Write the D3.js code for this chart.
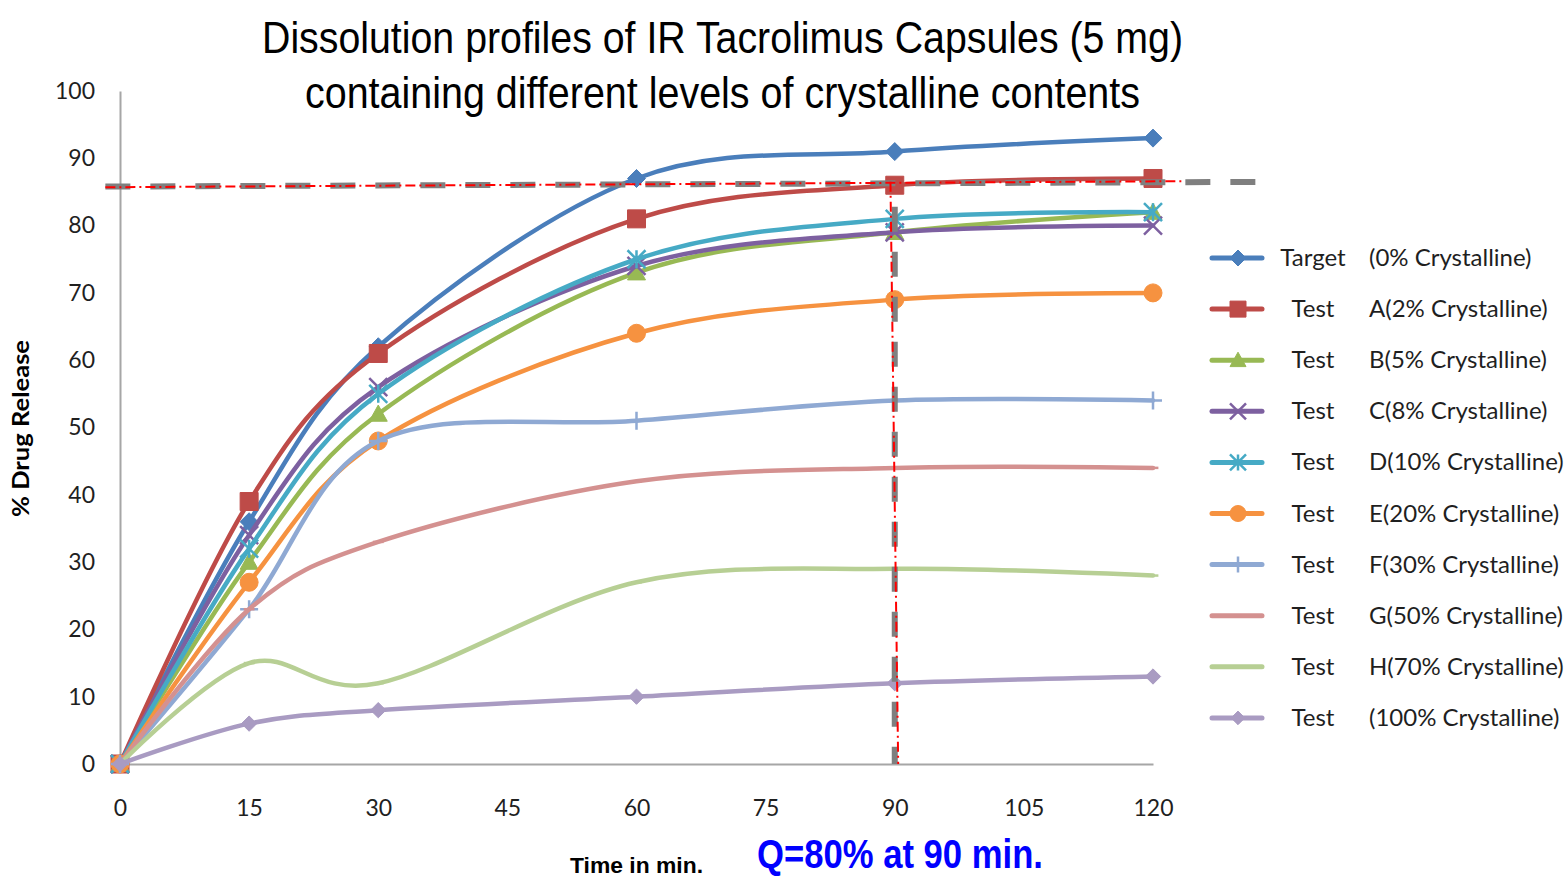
<!DOCTYPE html>
<html>
<head>
<meta charset="utf-8">
<script src="https://cdn.jsdelivr.net/npm/d3@7"></script>
<style>
  body { margin: 0; background: #fff; }
  svg { display: block; }
</style>
</head>
<body>
<div id="chart"></div>
<script>
// Sampling times (min)
const times = [0, 15, 30, 60, 90, 120];

// % drug release per formulation
const target = [0, 36, 62, 87, 91, 93];
const testA = [0, 39, 61, 81, 86, 87];
const testB = [0, 30, 52, 73, 79, 82];
const testC = [0, 34, 56, 74, 79, 80];
const testD = [0, 32, 55, 75, 81, 82];
const testE = [0, 27, 48, 64, 69, 70];
const testF = [0, 23, 48, 51, 54, 54];
const testG = [0, 23, 33, 42, 44, 44];
const testH = [0, 15, 12, 27, 29, 28];
const test100 = [0, 6, 8, 10, 12, 13];

const legendNames = ['Target', 'Test', 'Test', 'Test', 'Test', 'Test', 'Test', 'Test', 'Test', 'Test'];
const legendLabels = ['(0% Crystalline)', 'A(2% Crystalline)', 'B(5% Crystalline)', 'C(8% Crystalline)',
    'D(10% Crystalline)', 'E(20% Crystalline)', 'F(30% Crystalline)', 'G(50% Crystalline)',
    'H(70% Crystalline)', '(100% Crystalline)'];

const xTicks = [0, 15, 30, 45, 60, 75, 90, 105, 120];
const yTicks = [0, 10, 20, 30, 40, 50, 60, 70, 80, 90, 100];

// Q = 80% at 90 min guide lines, in data units [time, %]
const qLevelGray = [[-1.7, 85.8], [132.5, 86.5]];
const qLevelRed = [[-1.7, 85.7], [123.7, 86.6]];
const qTimeGray = [[90, 82.8], [90, 0]];
const qTimeRed = [[89.5, 86.5], [90.4, 0]];

const allSeries = [target, testA, testB, testC, testD, testE, testF, testG, testH, test100];
const colors = ['#4a7ebb', '#be4b48', '#98b954', '#7d60a0', '#46aac5', '#f69240',
    '#8fa9d3', '#d49190', '#b7cf94', '#a99bc2'];
const markers = ['diamond', 'square', 'triangle', 'x', 'star', 'circle', 'plus', 'dash', 'dash', 'diamondS'];

const W = 1566, H = 879;
const svg = d3.select('#chart').append('svg')
    .attr('width', W).attr('height', H);

const x = d3.scaleLinear().domain([0, 120]).range([120, 1153]);
const y = d3.scaleLinear().domain([0, 100]).range([764, 91]);

const tickFont = 'Lato, "Open Sans", sans-serif';

// Axes
const yAxis = svg.append('g')
    .attr('transform', `translate(${x(0)},0)`)
    .call(d3.axisLeft(y).tickValues(yTicks).tickSize(0).tickSizeOuter(0).tickPadding(25));
const xAxis = svg.append('g')
    .attr('transform', `translate(0,${y(0)})`)
    .call(d3.axisBottom(x).tickValues(xTicks).tickSize(0).tickSizeOuter(0).tickPadding(36));
[xAxis, yAxis].forEach(g => {
    g.select('.domain').attr('stroke', '#a6a6a6').attr('stroke-width', 2);
    g.selectAll('text')
        .style('font-family', tickFont)
        .style('font-size', '23px')
        .attr('fill', '#1f1f1f');
});

function markerPath(type, s) {
    const h = s / 2;
    switch (type) {
        case 'diamond': return `M0,${-h}L${h},0L0,${h}L${-h},0Z`;
        case 'diamondS': return `M0,${-h * 0.85}L${h * 0.85},0L0,${h * 0.85}L${-h * 0.85},0Z`;
        case 'square': return `M${-h},${-h}h${s}v${s}h${-s}Z`;
        case 'triangle': return `M0,${-h}L${h},${h * 0.8}L${-h},${h * 0.8}Z`;
        case 'circle': return d3.arc()({ innerRadius: 0, outerRadius: h, startAngle: 0, endAngle: 2 * Math.PI });
        case 'x': return `M${-h},${-h}L${h},${h}M${h},${-h}L${-h},${h}`;
        case 'star': return `M${-h},${-h}L${h},${h}M${h},${-h}L${-h},${h}M0,${-h}V${h}`;
        case 'plus': return `M${-h},0H${h}M0,${-h}V${h}`;
        case 'dash': return `M${-h * 0.6},0H${h * 0.6}`;
    }
}
const filled = t => ['diamond', 'diamondS', 'square', 'triangle', 'circle'].includes(t);

const line = d3.line()
    .x(d => x(d[0]))
    .y(d => y(d[1]))
    .curve(d3.curveCatmullRom.alpha(0));

const plot = svg.append('g');
allSeries.forEach((vals, i) => {
    const pts = times.map((t, j) => [t, vals[j]]);
    plot.append('path')
        .datum(pts)
        .attr('d', line)
        .attr('fill', 'none')
        .attr('stroke', colors[i])
        .attr('stroke-width', 4.5)
        .attr('stroke-linecap', 'round');
    plot.append('g').selectAll('path')
        .data(pts)
        .join('path')
        .attr('transform', d => `translate(${x(d[0])},${y(d[1])})`)
        .attr('d', markerPath(markers[i], 18))
        .attr('fill', filled(markers[i]) ? colors[i] : 'none')
        .attr('stroke', colors[i])
        .attr('stroke-width', filled(markers[i]) ? 1 : 2.5);
});

// Q guide lines
const guide = d3.line().x(d => x(d[0])).y(d => y(d[1]));
svg.append('path').datum(qLevelGray).attr('d', guide)
    .attr('stroke', '#7f7f7f').attr('stroke-width', 6).attr('stroke-dasharray', '25,20').attr('fill', 'none');
svg.append('path').datum(qTimeGray).attr('d', guide)
    .attr('stroke', '#7f7f7f').attr('stroke-width', 6).attr('stroke-dasharray', '25,20').attr('fill', 'none');
svg.append('path').datum(qLevelRed).attr('d', guide)
    .attr('stroke', '#ff0000').attr('stroke-width', 2).attr('stroke-dasharray', '10,4,2,4').attr('fill', 'none');
svg.append('path').datum(qTimeRed).attr('d', guide)
    .attr('stroke', '#ff0000').attr('stroke-width', 2).attr('stroke-dasharray', '10,4,2,4').attr('fill', 'none');

// Title
const titleFont = '"Liberation Sans Narrow", "Arial Narrow", "Liberation Sans", Arial, sans-serif';
svg.append('text')
    .attr('x', 262).attr('y', 53)
    .attr('textLength', 921).attr('lengthAdjust', 'spacingAndGlyphs')
    .style('font-family', titleFont).style('font-size', '45px').attr('fill', '#000')
    .text('Dissolution profiles of IR Tacrolimus Capsules (5 mg)');
svg.append('text')
    .attr('x', 305).attr('y', 108)
    .attr('textLength', 835).attr('lengthAdjust', 'spacingAndGlyphs')
    .style('font-family', titleFont).style('font-size', '45px').attr('fill', '#000')
    .text('containing different levels of crystalline contents');

// Axis titles
svg.append('text')
    .attr('transform', `translate(29,${(340 + 517) / 2}) rotate(-90)`)
    .attr('text-anchor', 'middle')
    .attr('textLength', 177).attr('lengthAdjust', 'spacingAndGlyphs')
    .style('font-family', tickFont).style('font-size', '22px').style('font-weight', 'bold')
    .attr('fill', '#000')
    .text('% Drug Release');
svg.append('text')
    .attr('x', 570).attr('y', 873)
    .attr('textLength', 133).attr('lengthAdjust', 'spacingAndGlyphs')
    .style('font-family', '"Liberation Sans", Arial, sans-serif').style('font-size', '22px').style('font-weight', 'bold')
    .attr('fill', '#000')
    .text('Time in min.');
svg.append('text')
    .attr('x', 757).attr('y', 868)
    .attr('textLength', 286).attr('lengthAdjust', 'spacingAndGlyphs')
    .style('font-family', titleFont).style('font-size', '40px').style('font-weight', 'bold')
    .attr('fill', '#0000ff')
    .text('Q=80% at 90 min.');

// Legend
const legend = svg.append('g');
allSeries.forEach((vals, i) => {
    const ly = 258 + i * 51.1;
    const g = legend.append('g').attr('transform', `translate(0,${ly})`);
    g.append('line')
        .attr('x1', 1212).attr('x2', 1262)
        .attr('stroke', colors[i]).attr('stroke-width', 5).attr('stroke-linecap', 'round');
    g.append('path')
        .attr('transform', 'translate(1238,0)')
        .attr('d', markerPath(markers[i], 16))
        .attr('fill', filled(markers[i]) ? colors[i] : 'none')
        .attr('stroke', colors[i])
        .attr('stroke-width', filled(markers[i]) ? 1 : 2.5);
    g.append('text')
        .attr('x', 1313).attr('y', 8)
        .attr('text-anchor', 'middle')
        .style('font-family', tickFont).style('font-size', '24px')
        .attr('fill', '#1f1f1f')
        .text(legendNames[i]);
    g.append('text')
        .attr('x', 1369).attr('y', 8)
        .style('font-family', tickFont).style('font-size', '24px')
        .attr('fill', '#1f1f1f')
        .text(legendLabels[i]);
});
</script>
</body>
</html>
